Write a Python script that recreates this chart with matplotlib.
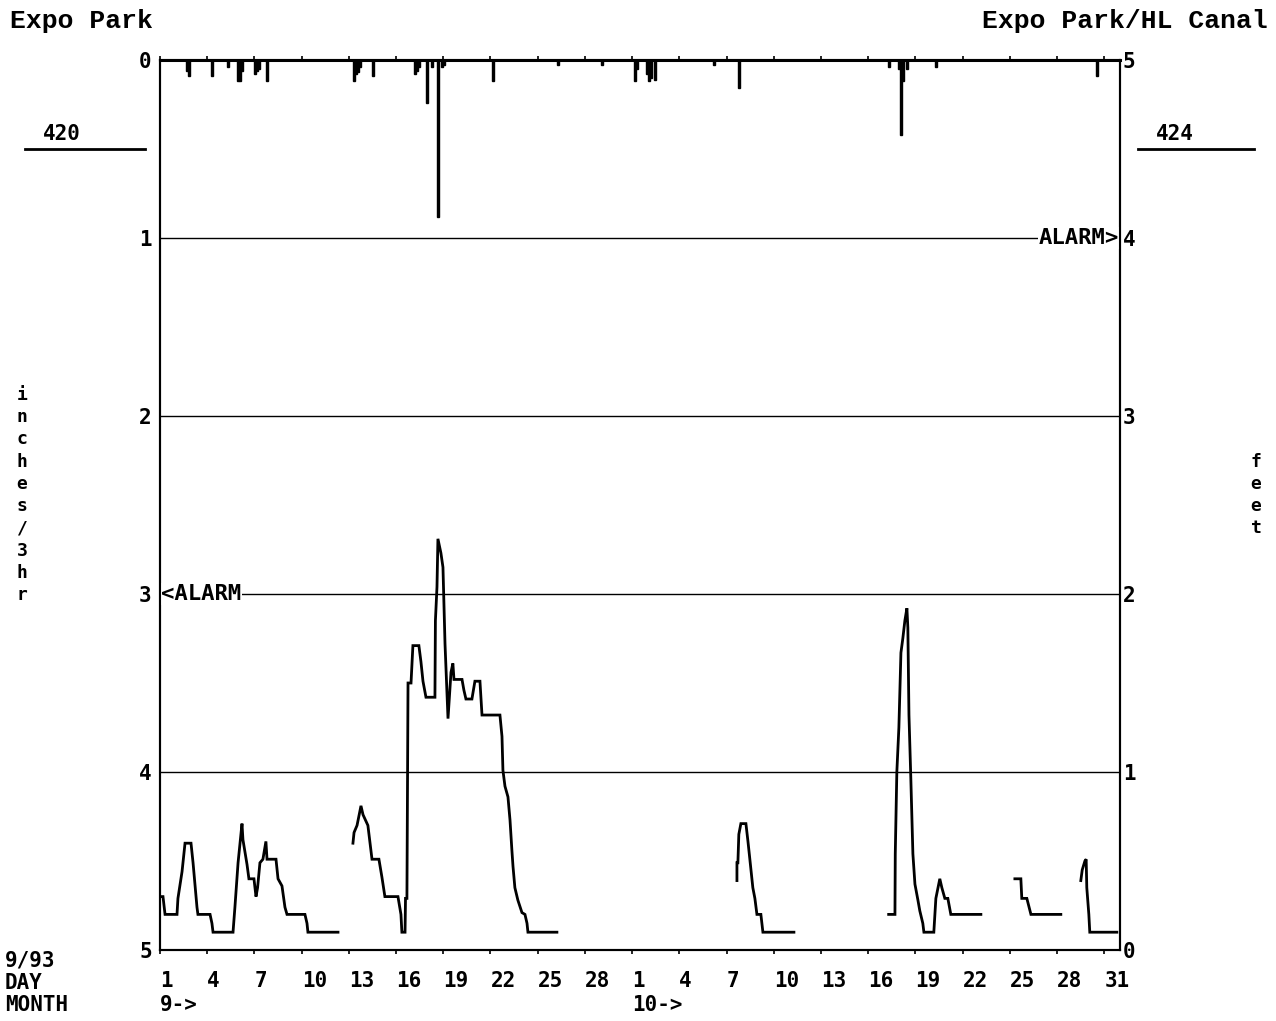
import matplotlib
matplotlib.use('Agg')
import matplotlib.pyplot as plt
from matplotlib.lines import Line2D
from matplotlib.transforms import blended_transform_factory

# ---------------- data ----------------
# x axis: days since Sep 1 1993 (0 = Sep 1, 30 = Oct 1)
tick_days = [0, 3, 6, 9, 12, 15, 18, 21, 24, 27, 30, 33, 36, 39, 42, 45, 48, 51, 54, 57, 60]
tick_labels = ['1', '4', '7', '10', '13', '16', '19', '22', '25', '28',
               '1', '4', '7', '10', '13', '16', '19', '22', '25', '28', '31']
month_days = [0, 30]
month_labels = ['9->', '10->']

# rainfall, inches per 3 hr (left axis, hanging from top)
rain_day = [1.625, 1.75, 3.25, 4.25, 4.875, 5.0, 5.125, 6.0, 6.125, 6.25, 6.75,
            12.25, 12.375, 12.5, 12.625, 13.5, 16.125, 16.25, 16.375, 16.875,
            17.25, 17.625, 17.875, 18.0, 21.125, 25.25, 28.0, 30.125, 30.25,
            30.875, 31.0, 31.125, 31.375, 35.125, 36.75, 46.25, 46.875, 47.0,
            47.125, 47.375, 49.25, 59.5]
rain_in = [0.06, 0.09, 0.09, 0.04, 0.12, 0.12, 0.06, 0.08, 0.06, 0.05, 0.12,
           0.12, 0.08, 0.07, 0.04, 0.09, 0.08, 0.06, 0.04, 0.24,
           0.04, 0.88, 0.04, 0.03, 0.12, 0.03, 0.03, 0.12, 0.05,
           0.08, 0.12, 0.10, 0.11, 0.03, 0.16, 0.04, 0.05, 0.42,
           0.12, 0.05, 0.04, 0.09]

# canal level, feet (right axis)
lvl1_day = [0, 0.19, 0.32, 1.08, 1.14, 1.40, 1.59, 1.97, 2.10, 2.35, 2.41, 3.18, 3.30,
            3.37, 4.64, 4.76, 4.96, 5.21, 5.27, 5.53, 5.65, 5.97, 6.10, 6.20, 6.35,
            6.54, 6.73, 6.80, 7.37, 7.50, 7.75, 7.94, 8.07, 9.21, 9.34, 9.40, 11.31]
lvl1_ft = [0.30, 0.30, 0.20, 0.20, 0.29, 0.44, 0.60, 0.60, 0.49, 0.24, 0.20, 0.20, 0.15,
           0.10, 0.10, 0.24, 0.49, 0.71, 0.62, 0.48, 0.40, 0.40, 0.30, 0.35, 0.49,
           0.51, 0.61, 0.51, 0.51, 0.40, 0.36, 0.24, 0.20, 0.20, 0.15, 0.10, 0.10]

lvl2_day = [12.26, 12.33, 12.52, 12.77, 12.90, 13.21, 13.47, 13.91, 14.10, 14.29, 15.12,
            15.31, 15.37, 15.57, 15.60, 15.69, 15.76, 15.95, 16.07, 16.45, 16.58,
            16.71, 16.90, 17.47, 17.50, 17.60, 17.66, 17.85, 17.98, 18.11, 18.30,
            18.49, 18.61, 18.68, 19.19, 19.31, 19.44, 19.82, 20.01, 20.33, 20.46,
            21.60, 21.73, 21.79, 21.92, 22.11, 22.24, 22.36, 22.43, 22.55, 22.74,
            23.00, 23.19, 23.32, 23.38, 25.22]
lvl2_ft = [0.60, 0.66, 0.70, 0.81, 0.76, 0.70, 0.51, 0.51, 0.41, 0.30, 0.30,
           0.20, 0.10, 0.10, 0.29, 0.29, 1.50, 1.50, 1.71, 1.71, 1.62,
           1.51, 1.42, 1.42, 1.85, 2.04, 2.31, 2.23, 2.15, 1.72, 1.30,
           1.56, 1.61, 1.52, 1.52, 1.46, 1.41, 1.41, 1.51, 1.51, 1.32,
           1.32, 1.20, 1.01, 0.92, 0.86, 0.73, 0.56, 0.47, 0.35, 0.28,
           0.21, 0.20, 0.15, 0.10, 0.10]

lvl3_day = [36.66, 36.66, 36.72, 36.78, 36.91, 37.23, 37.36, 37.48, 37.67, 37.80,
            37.93, 38.18, 38.31, 40.28]
lvl3_ft = [0.39, 0.49, 0.49, 0.65, 0.71, 0.71, 0.61, 0.51, 0.35, 0.29,
           0.20, 0.20, 0.10, 0.10]

lvl4_day = [46.30, 46.70, 46.72, 46.82, 46.95, 47.08, 47.20, 47.33, 47.46, 47.52,
            47.59, 47.71, 47.84, 47.97, 48.16, 48.28, 48.47, 48.54, 49.17, 49.30,
            49.55, 49.68, 49.87, 50.06, 50.25, 52.16]
lvl4_ft = [0.20, 0.20, 0.54, 1.00, 1.25, 1.67, 1.75, 1.85, 1.92, 1.81,
           1.32, 0.96, 0.54, 0.37, 0.28, 0.22, 0.15, 0.10, 0.10, 0.29,
           0.40, 0.35, 0.29, 0.29, 0.20, 0.20]

lvl5_day = [54.32, 54.70, 54.76, 55.08, 55.34, 57.24]
lvl5_ft = [0.40, 0.40, 0.29, 0.29, 0.20, 0.20]

lvl6_day = [58.51, 58.60, 58.77, 58.85, 58.89, 59.02, 59.08, 60.80]
lvl6_ft = [0.39, 0.45, 0.50, 0.51, 0.35, 0.20, 0.10, 0.10]

# ---------------- figure ----------------
W, H = 1276, 1021
fig = plt.figure(figsize=(W / 100, H / 100), dpi=100)
ax = fig.add_axes([160 / W, 1 - 950 / H, 960 / W, 890 / H])

MONO = 'DejaVu Sans Mono'
TITLE = 'Liberation Mono'

ax.set_xlim(0, 61)
ax.set_ylim(5, 0)
ax.bar(rain_day, rain_in, width=0.125, align='edge', color='black',
       edgecolor='black', linewidth=1.0, zorder=3)

for v in [1, 2, 3, 4]:
    ax.axhline(v, color='black', lw=1.0, zorder=1)

ax2 = ax.twinx()
ax2.set_ylim(0, 5)
for d, f in [(lvl1_day, lvl1_ft), (lvl2_day, lvl2_ft), (lvl3_day, lvl3_ft),
             (lvl4_day, lvl4_ft), (lvl5_day, lvl5_ft), (lvl6_day, lvl6_ft)]:
    ax2.plot(d, f, color='black', lw=2.0, solid_joinstyle='miter')

for a in (ax, ax2):
    for s in a.spines.values():
        s.set_color('black')
        s.set_linewidth(1.5)
ax.spines['top'].set_linewidth(2.2)

ax.set_yticks(range(6))
ax.set_yticklabels([str(i) for i in range(6)], fontfamily=MONO,
                   fontweight='bold', fontsize=15)
ax.tick_params(axis='y', length=0, pad=6)
ax2.set_yticks(range(6))
ax2.set_yticklabels([str(i) for i in range(6)], fontfamily=MONO,
                    fontweight='bold', fontsize=15)
ax2.tick_params(axis='y', length=0, pad=2)

ax.set_xticks(tick_days)
ax.set_xticklabels(tick_labels, fontfamily=MONO, fontweight='bold', fontsize=15,
                   ha='left')
ax.tick_params(axis='x', direction='out', length=3, width=1.2, top=True, pad=12)

# alarm markers
ax.text(0.05, 3, '<ALARM', ha='left', va='center', fontfamily=MONO,
        fontweight='bold', fontsize=16, zorder=5,
        bbox=dict(facecolor='white', edgecolor='none', pad=1))
ax.text(60.95, 1, 'ALARM>', ha='right', va='center', fontfamily=MONO,
        fontweight='bold', fontsize=16, zorder=5,
        bbox=dict(facecolor='white', edgecolor='none', pad=1))

# month row under tick labels
trans = blended_transform_factory(ax.transData, ax.transAxes)
for d, lab in zip(month_days, month_labels):
    ax.text(d, -(1005 - 950) / 890, lab, transform=trans, ha='left', va='center',
            fontfamily=MONO, fontweight='bold', fontsize=15)

# titles
fig.text(10 / W, 1 - 21 / H, 'Expo Park', ha='left', va='center',
         fontfamily=TITLE, fontweight='bold', fontsize=19)
fig.text(1268 / W, 1 - 21 / H, 'Expo Park/HL Canal', ha='right', va='center',
         fontfamily=TITLE, fontweight='bold', fontsize=19)

# station ids
fig.text(62 / W, 1 - 134 / H, '420', ha='center', va='center',
         fontfamily=MONO, fontweight='bold', fontsize=15)
fig.add_artist(Line2D([25 / W, 145 / W], [1 - 149 / H, 1 - 149 / H],
                      color='black', lw=2))
fig.text(1175 / W, 1 - 134 / H, '424', ha='center', va='center',
         fontfamily=MONO, fontweight='bold', fontsize=15)
fig.add_artist(Line2D([1138 / W, 1254 / W], [1 - 149 / H, 1 - 149 / H],
                      color='black', lw=2))

# stacked axis labels
fig.text(22 / W, 1 - 495 / H, '\n'.join('inches/3hr'), ha='center', va='center',
         fontfamily=MONO, fontweight='bold', fontsize=13, linespacing=1.3)
fig.text(1256 / W, 1 - 495 / H, '\n'.join('feet'), ha='center', va='center',
         fontfamily=MONO, fontweight='bold', fontsize=13, linespacing=1.3)

# bottom-left legend rows
for y, s in [(960, '9/93'), (983, 'DAY'), (1005, 'MONTH')]:
    fig.text(5 / W, 1 - y / H, s, ha='left', va='center',
             fontfamily=MONO, fontweight='bold', fontsize=15)

fig.savefig('out.png', dpi=100, facecolor='white')
